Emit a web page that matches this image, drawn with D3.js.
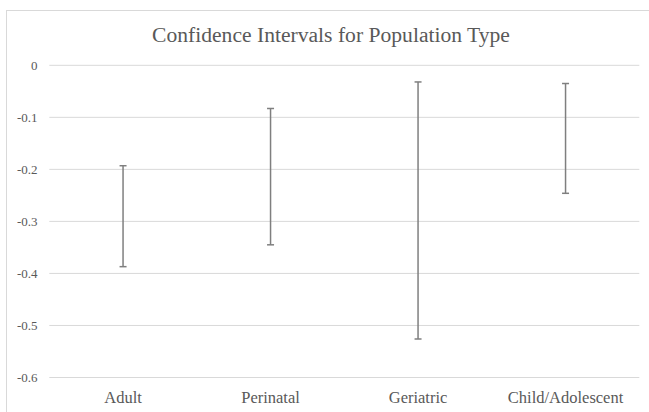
<!DOCTYPE html>
<html>
<head>
<meta charset="utf-8">
<script src="https://cdn.jsdelivr.net/npm/d3@7"></script>
<style>
  html, body { margin: 0; padding: 0; background: #fff; }
  svg { display: block; }
</style>
</head>
<body>
<div id="chart"></div>
<script>
// Confidence intervals per population type
const categories = ["Adult", "Perinatal", "Geriatric", "Child/Adolescent"];
const upper = [-0.193, -0.083, -0.032, -0.035];
const lower = [-0.387, -0.345, -0.526, -0.246];
const yTicks = [0, -0.1, -0.2, -0.3, -0.4, -0.5, -0.6];
const title = "Confidence Intervals for Population Type";

const width = 649, height = 412;
const margin = { top: 65.3, right: 9.7, bottom: 34.5, left: 49.3 };
const fontFace = "'Liberation Serif'";
const textColor = "#595959";

const svg = d3.select("#chart").append("svg")
    .attr("width", width)
    .attr("height", height);

// chart area border (cropped at right/bottom)
svg.append("rect")
    .attr("x", 6.5)
    .attr("y", 10.5)
    .attr("width", 660)
    .attr("height", 420)
    .attr("fill", "#fff")
    .attr("stroke", "#d9d9d9");

const x = d3.scaleBand()
    .domain(categories)
    .range([margin.left, width - margin.right]);

const y = d3.scaleLinear()
    .domain([-0.6, 0])
    .range([height - margin.bottom, margin.top]);

// gridlines
svg.append("g")
    .selectAll("line")
    .data(yTicks)
    .join("line")
    .attr("x1", margin.left)
    .attr("x2", width - margin.right)
    .attr("y1", d => y(d))
    .attr("y2", d => y(d))
    .attr("stroke", "#d9d9d9")
    .attr("stroke-width", 1);

// y axis labels
const yAxis = d3.axisLeft(y)
    .tickValues(yTicks)
    .tickSize(0)
    .tickPadding(0)
    .tickFormat(d => d === 0 ? "0" : d3.format(".1f")(d).replace("−", "-"));

svg.append("g")
    .attr("transform", "translate(37.5,0)")
    .call(yAxis)
    .call(g => g.select(".domain").remove())
    .call(g => g.selectAll("text")
        .style("font-family", fontFace)
        .style("font-size", "13px")
        .attr("fill", textColor));

// x axis labels
svg.append("g")
    .selectAll("text")
    .data(categories)
    .join("text")
    .attr("x", d => x(d) + x.bandwidth() / 2)
    .attr("y", 403.3)
    .attr("text-anchor", "middle")
    .attr("fill", textColor)
    .style("font-family", fontFace)
    .style("font-size", "16.5px")
    .text(d => d);

// error bars
const bars = svg.append("g")
    .selectAll("g")
    .data(categories.map((c, i) => ({ c, hi: upper[i], lo: lower[i] })))
    .join("g")
    .attr("stroke", "#7f7f7f")
    .attr("stroke-width", 1.5);

const cx = d => x(d.c) + x.bandwidth() / 2;
const capHalf = 3.5;

bars.append("line")
    .attr("x1", cx).attr("x2", cx)
    .attr("y1", d => y(d.hi)).attr("y2", d => y(d.lo));

bars.append("line")
    .attr("x1", d => cx(d) - capHalf).attr("x2", d => cx(d) + capHalf)
    .attr("y1", d => y(d.hi)).attr("y2", d => y(d.hi));

bars.append("line")
    .attr("x1", d => cx(d) - capHalf).attr("x2", d => cx(d) + capHalf)
    .attr("y1", d => y(d.lo)).attr("y2", d => y(d.lo));

// title
svg.append("text")
    .attr("x", 331)
    .attr("y", 42.3)
    .attr("text-anchor", "middle")
    .attr("fill", textColor)
    .style("font-family", fontFace)
    .style("font-size", "21.6px")
    .text(title);
</script>
</body>
</html>
